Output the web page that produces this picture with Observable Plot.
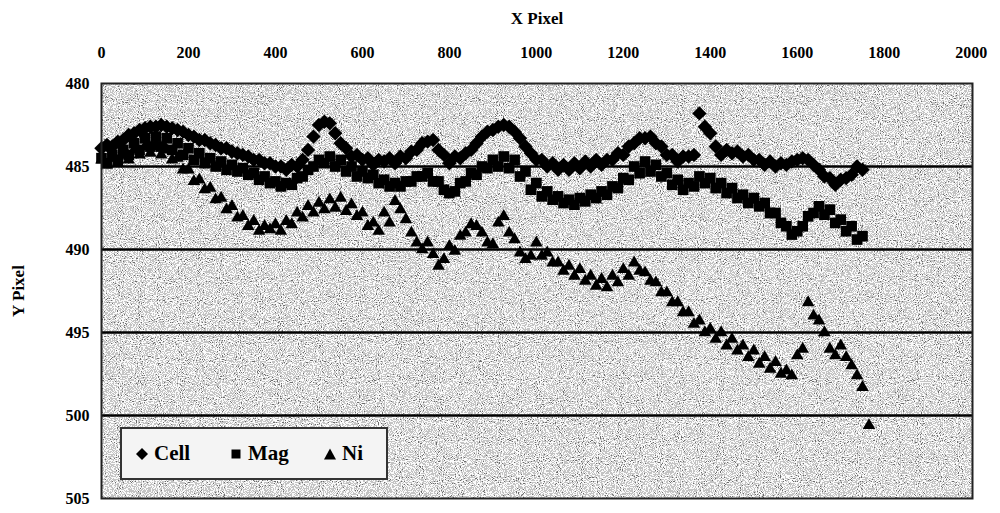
<!DOCTYPE html>
<html>
<head>
<meta charset="utf-8">
<script src="https://cdn.jsdelivr.net/npm/d3@7"></script>
<script src="https://cdn.jsdelivr.net/npm/@observablehq/plot@0.6"></script>
<style>
  body { margin: 0; background: #fff; }
  #wrap { position: relative; width: 1000px; height: 513px; font-family: "Liberation Serif", "DejaVu Serif", serif; }
  .legend { position: absolute; left: 120px; top: 427px; width: 268px; height: 53px; background: #f4f4f4;
            border: 2px solid #333; box-sizing: border-box; display: flex; align-items: center;
            font-family: "Liberation Serif", serif; font-weight: bold; font-size: 21px; color: #000; }
  .legend .it { display: flex; align-items: center; position: absolute; }
  .legend svg { margin-right: 6px; }
</style>
</head>
<body>
<div id="wrap"></div>
<script>
// x positions (X Pixel) of the first set of samples
const xs = [0,25,50,75,100,125,150,175,200,225,250,275,300,325,350,375,400,425,450,475,
  500,525,550,575,600,625,650,675,700,725,750,775,800,825,850,875,900,925,950,975,
  1000,1025,1050,1075,1100,1125,1150,1175,1200,1225,1250,1275,1300,1325,1350,1375,1400,1425,1450,1475,
  1500,1525,1550,1575,1600,1625,1650,1675,1700,1725,1750];
// x positions of the in-between samples
const xs2 = [12.5,37.5,62.5,87.5,112.5,137.5,162.5,187.5,212.5,237.5,
  262.5,287.5,312.5,337.5,362.5,387.5,412.5,437.5,462.5,487.5,
  512.5,537.5,562.5,587.5,612.5,637.5,662.5,687.5,712.5,737.5,
  762.5,787.5,812.5,837.5,862.5,887.5,912.5,937.5,962.5,987.5,
  1012.5,1037.5,1062.5,1087.5,1112.5,1137.5,1162.5,1187.5,1212.5,1237.5,
  1262.5,1287.5,1312.5,1337.5,1362.5,1387.5,1412.5,1437.5,1462.5,1487.5,
  1512.5,1537.5,1562.5,1587.5,1612.5,1637.5,1662.5,1687.5,1712.5,1737.5];

const cellY = [483.9,483.8,483.4,483.0,482.7,482.6,482.6,482.8,483.1,483.4,
  483.6,483.9,484.1,484.3,484.6,484.8,485.0,485.2,485.0,484.0,
  482.5,482.4,483.6,484.4,484.6,484.9,484.7,484.8,484.5,484.0,
  483.5,484.0,484.8,484.5,484.0,483.2,482.8,482.5,482.9,483.8,
  484.6,485.0,485.2,485.2,485.1,485.0,484.9,484.6,484.3,483.6,
  483.3,483.6,484.3,484.7,484.4,481.8,483.0,484.3,484.2,484.4,
  484.6,484.9,485.0,484.9,484.6,484.6,485.2,485.7,485.8,485.5,
  485.2];
const cellY2 = [483.7,483.5,483.1,482.8,482.6,482.5,482.7,482.9,483.2,483.4,
  483.7,483.9,484.2,484.4,484.6,484.8,485.0,484.9,484.6,483.2,
  482.3,483.0,483.9,484.3,484.5,484.6,484.5,484.4,484.1,483.6,
  483.4,484.3,484.4,484.2,483.6,482.9,482.6,482.6,483.3,484.2,
  484.6,484.8,484.9,484.8,484.7,484.6,484.6,484.2,483.8,483.3,
  483.2,483.8,484.3,484.4,484.3,482.6,483.8,484.0,484.1,484.3,
  484.6,484.7,484.8,484.7,484.5,484.9,485.6,486.1,485.7,485.0];

const magY = [484.5,484.3,484.0,483.6,483.3,483.2,483.3,483.6,483.9,484.2,
  484.5,484.7,484.9,485.1,485.4,485.6,485.9,486.0,485.7,485.2,
  484.6,484.4,484.6,485.0,485.3,485.5,485.8,486.0,485.9,485.6,
  485.4,485.9,486.6,486.0,485.4,485.0,484.6,484.4,484.6,485.3,
  486.0,486.5,486.8,487.0,486.9,486.7,486.5,486.2,485.7,485.0,
  484.7,484.9,485.4,485.8,486.0,485.6,485.7,486.0,486.3,486.7,
  486.9,487.2,487.8,488.6,488.9,488.0,487.4,487.6,488.2,488.6,
  489.2];
const magY2 = [484.8,484.6,484.3,484.0,483.8,483.8,484.0,484.3,484.6,484.8,
  485.0,485.2,485.3,485.5,485.8,486.0,486.2,486.1,485.6,485.0,
  484.8,485.0,485.3,485.6,485.7,486.0,486.2,486.2,485.9,485.6,
  485.9,486.4,486.5,485.9,485.5,485.1,485.0,485.1,485.6,486.4,
  486.8,487.0,487.2,487.3,487.1,486.9,486.7,486.3,485.8,485.4,
  485.3,485.6,486.1,486.4,486.2,486.0,486.3,486.6,486.9,487.2,
  487.4,487.8,488.4,489.1,488.6,487.8,487.9,488.4,488.9,489.4];

const niX = xs.concat([1765]);
const niY = [484.6,484.5,484.3,484.0,483.8,483.8,484.0,484.5,485.2,485.8,
  486.3,486.9,487.4,488.0,488.3,488.6,488.5,488.3,487.8,487.4,
  487.2,487.0,486.9,487.3,487.8,488.4,487.8,487.1,488.2,489.6,
  489.6,491.0,489.8,489.2,488.5,489.0,489.7,488.0,489.4,490.6,
  489.6,490.2,490.8,491.0,491.2,491.6,491.8,491.6,491.2,490.8,
  491.4,492.0,492.6,493.2,493.8,494.3,494.8,495.0,495.4,495.8,
  496.1,496.5,496.8,497.3,496.4,493.2,494.3,496.0,495.8,497.0,
  498.3,500.6];
const niY2 = [484.9,484.8,484.6,484.3,484.2,484.3,484.6,485.2,485.9,486.4,
  487.0,487.6,488.1,488.6,488.9,488.8,488.9,488.5,488.1,487.8,
  487.6,487.5,487.7,488.0,488.6,488.9,488.4,487.6,489.0,490.0,
  490.3,490.6,490.1,489.0,488.6,489.6,488.4,489.0,490.2,490.4,
  490.4,490.8,491.3,491.6,491.9,492.2,492.3,492.0,491.6,491.3,
  491.9,492.6,493.2,493.8,494.5,495.0,495.4,495.8,496.1,496.5,
  496.9,497.2,497.5,497.6,496.0,494.0,495.0,496.4,496.5,497.6];

const xTicks = [0,200,400,600,800,1000,1200,1400,1600,1800,2000];
const yTicks = [480,485,490,495,500,505];
const gridY = [485,490,495,500];

const pts = (xa, ya) => xa.map((x, i) => ({x, y: ya[i]}));
const cell = pts(xs, cellY).concat(pts(xs2, cellY2));
const mag = pts(xs, magY).concat(pts(xs2, magY2));
const ni = pts(niX, niY).concat(pts(xs2, niY2));

const svg = Plot.plot({
  width: 1000,
  height: 513,
  marginLeft: 101,
  marginRight: 28,
  marginTop: 83,
  marginBottom: 15,
  style: { fontFamily: "Liberation Serif, serif", fontSize: "16px", fontWeight: "bold", color: "#000", background: "transparent" },
  x: { domain: [0, 2003], ticks: xTicks, axis: "top", label: "X Pixel", labelAnchor: "center", labelArrow: "none",
       tickSize: 0, tickPadding: 26, labelOffset: 72, tickFormat: d3.format("d") },
  y: { domain: [480, 505], reverse: true, ticks: yTicks, label: "Y Pixel", labelAnchor: "center", labelArrow: "none",
       tickSize: 0, tickPadding: 12, labelOffset: 90, tickFormat: d3.format("d") },
  marks: [
    Plot.frame({ fill: "#ffffff" }),
    Plot.ruleY(gridY, { stroke: "#000", strokeWidth: 2.5 }),
    Plot.dot(cell, { x: "x", y: "y", symbol: "diamond2", r: 6.5, fill: "#000", stroke: "none" }),
    Plot.dot(mag, { x: "x", y: "y", symbol: "square2", r: 6.8, fill: "#000", stroke: "none" }),
    Plot.dot(ni, { x: "x", y: "y", symbol: "triangle2", r: 6, fill: "#000", stroke: "none" }),
    Plot.frame({ stroke: "#222", strokeWidth: 2 })
  ]
});

// speckled background texture for the plot area (like the scanned original)
const ns = "http://www.w3.org/2000/svg";
const defs = document.createElementNS(ns, "defs");
const tv = "0.15 0.15 0.15 0.15 0.55 0.96 0.96 0.96 0.96 0.96";
defs.innerHTML = `
  <filter id="speckle" x="0" y="0" width="1" height="1" filterUnits="objectBoundingBox">
    <feTurbulence type="fractalNoise" baseFrequency="0.95" numOctaves="1" seed="7" result="n"/>
    <feColorMatrix in="n" type="matrix" values="0.33 0.33 0.33 0 0  0.33 0.33 0.33 0 0  0.33 0.33 0.33 0 0  0 0 0 0 1" result="g"/>
    <feComponentTransfer in="g" result="t">
      <feFuncR type="discrete" tableValues="${tv}"/>
      <feFuncG type="discrete" tableValues="${tv}"/>
      <feFuncB type="discrete" tableValues="${tv}"/>
    </feComponentTransfer>
    <feComposite in="t" in2="SourceGraphic" operator="in"/>
  </filter>`;
svg.insertBefore(defs, svg.firstChild);
const frames = svg.querySelectorAll('[aria-label="frame"]');
if (frames.length) frames[0].setAttribute("filter", "url(#speckle)");
svg.querySelectorAll('[aria-label="x-axis label"] text, [aria-label="y-axis label"] text').forEach(t => t.style.fontSize = "17px");

const wrap = document.getElementById("wrap");
wrap.appendChild(svg);

// legend
const legendItems = [
  { name: "Cell", shape: "M6 0 L12 6 L6 12 L0 6 Z", left: 14 },
  { name: "Mag", shape: "M1.5 1.5 H10.5 V10.5 H1.5 Z", left: 108 },
  { name: "Ni", shape: "M6 0.5 L12 11.5 L0 11.5 Z", left: 202 }
];
const lg = document.createElement("div");
lg.className = "legend";
legendItems.forEach(it => {
  const d = document.createElement("div");
  d.className = "it";
  d.style.left = it.left + "px";
  d.innerHTML = `<svg width="12" height="12" viewBox="0 0 12 12"><path d="${it.shape}" fill="#000"/></svg><span>${it.name}</span>`;
  lg.appendChild(d);
});
wrap.appendChild(lg);
</script>
</body>
</html>
